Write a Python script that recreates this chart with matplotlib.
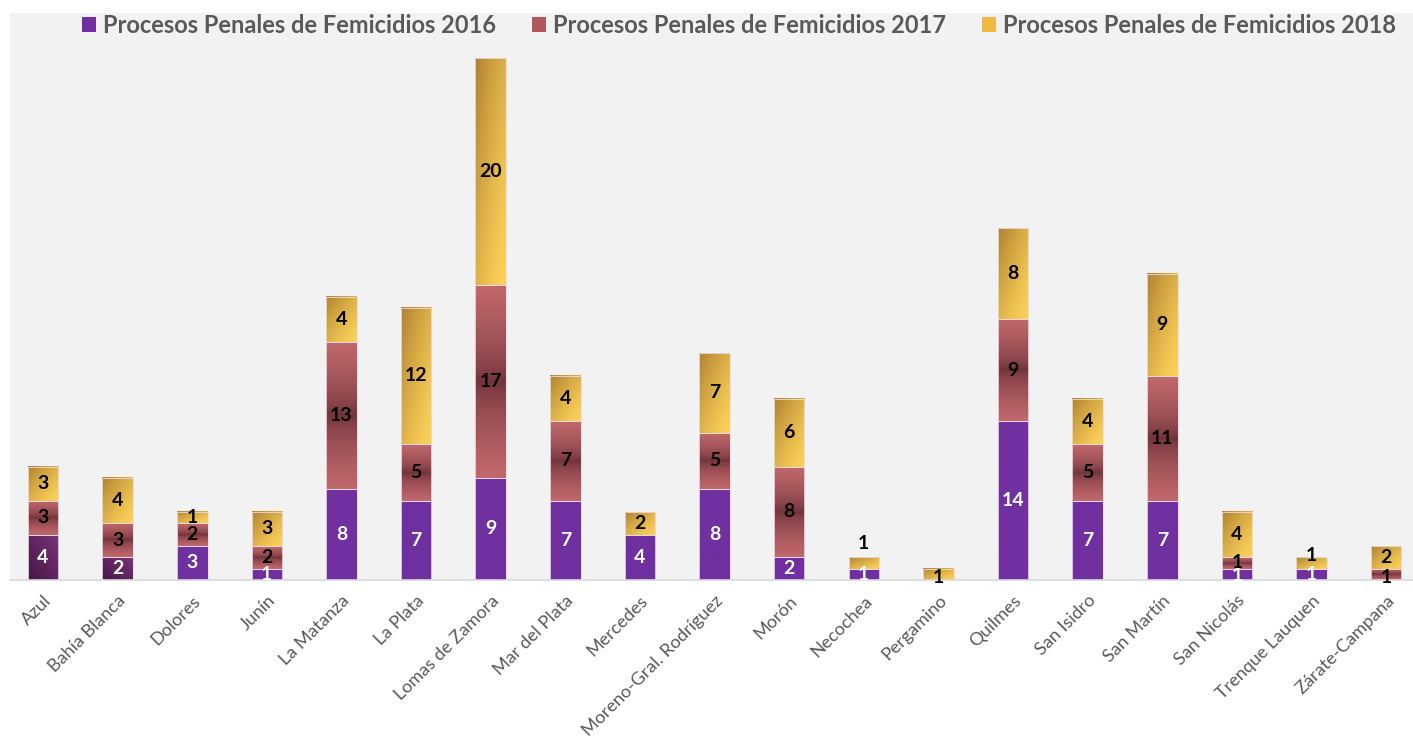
import numpy as np
import matplotlib
matplotlib.use("Agg")
import matplotlib.pyplot as plt
from matplotlib.colors import to_rgb
from matplotlib.patches import Patch

# data
categories = ["Azul", "Bahía Blanca", "Dolores", "Junín", "La Matanza", "La Plata",
              "Lomas de Zamora", "Mar del Plata", "Mercedes", "Moreno-Gral. Rodríguez",
              "Morón", "Necochea", "Pergamino", "Quilmes", "San Isidro", "San Martín",
              "San Nicolás", "Trenque Lauquen", "Zárate-Campana"]
v2016 = [4, 2, 3, 1, 8, 7, 9, 7, 4, 8, 2, 1, 0, 14, 7, 7, 1, 1, 0]
v2017 = [3, 3, 2, 2, 13, 5, 17, 7, 0, 5, 8, 0, 0, 9, 5, 11, 1, 0, 1]
v2018 = [3, 4, 1, 3, 4, 12, 20, 4, 2, 7, 6, 1, 1, 8, 4, 9, 4, 1, 2]
series_names = ["Procesos Penales de Femicidios 2016",
                "Procesos Penales de Femicidios 2017",
                "Procesos Penales de Femicidios 2018"]

plt.rcParams['font.family'] = ['Lato', 'DejaVu Sans']

W, H = 1413, 748
fig = plt.figure(figsize=(W / 100, H / 100), dpi=100)
fig.patch.set_facecolor("white")
ax = fig.add_axes([10 / W, 168 / H, 1403 / W, 567 / H])
ax.set_facecolor("#f2f2f2")

n = len(categories)
x = np.arange(n)
bw = 0.41


def grad_img(kind, res=64):
    u = np.linspace(0, 1, res)[None, :]
    v = np.linspace(0, 1, res)[:, None]  # 0 bottom, 1 top (origin lower)
    if kind == "gold":
        t = (u + (1 - v)) / 2
        c0, c1 = np.array(to_rgb("#b08230")), np.array(to_rgb("#fdd25a"))
        t = np.clip(1 - (1 - t) ** 1.3, 0, 1)
    elif kind == "red":
        t = np.abs(2 * v - 1) + 0 * u
        t = t ** 0.6
        c0, c1 = np.array(to_rgb("#6c3038")), np.array(to_rgb("#c1686b"))
    elif kind == "darkpurple":
        t = (u + v) / 2
        c0, c1 = np.array(to_rgb("#471646")), np.array(to_rgb("#7a3479"))
    else:
        t = 0 * u + 0 * v
        c0 = c1 = np.array(to_rgb("#7030a0"))
    return c0 + (c1 - c0) * t[..., None]


dark_2016 = {"Azul", "Bahía Blanca"}
label_nudge = {(11, 2): 1.75, (17, 2): 0.7, (12, 2): -0.25, (18, 1): -0.25, (16, 0): -0.1}

all_vals = [v2016, v2017, v2018]
kinds = ["purple", "red", "gold"]
bottom = np.zeros(n)
for s, vals in enumerate(all_vals):
    vals = np.array(vals, dtype=float)
    for i in range(n):
        if vals[i] <= 0:
            continue
        kind = kinds[s]
        if s == 0 and categories[i] in dark_2016:
            kind = "darkpurple"
        y0 = bottom[i]
        ax.imshow(grad_img(kind), extent=[x[i] - bw / 2, x[i] + bw / 2, y0, y0 + vals[i]],
                  origin="lower", aspect="auto", zorder=2, interpolation="bilinear")
        ax.add_patch(plt.Rectangle((x[i] - bw / 2, y0), bw, vals[i], fill=False,
                                   ec="#eadce4", lw=0.6, zorder=3))
        ly = y0 + vals[i] / 2 + label_nudge.get((i, s), 0)
        ax.text(x[i], ly, str(int(vals[i])), ha="center", va="center",
                fontsize=14, fontweight="bold",
                color="white" if s == 0 else "black", zorder=4)
    bottom += vals

ax.set_xlim(-0.442, 18.36)
ax.set_ylim(0, 50)
ax.set_yticks([])
ax.set_xticks(x)
ax.set_xticklabels(categories, rotation=45, ha="right", rotation_mode="anchor",
                   fontsize=13, color="#595959")
ax.tick_params(axis="x", length=0, pad=9)
for sp in ["top", "left", "right"]:
    ax.spines[sp].set_visible(False)
ax.spines["bottom"].set_color("#d9d9d9")
ax.spines["bottom"].set_linewidth(1.2)

handles = [Patch(facecolor="#7030a0"), Patch(facecolor="#b0585c"), Patch(facecolor="#f0b840")]
fig.legend(handles, series_names, loc="center", bbox_to_anchor=(0.523, 0.966), ncol=3,
           frameon=False, handlelength=0.6, handleheight=0.6, handletextpad=0.3,
           columnspacing=1.5, prop={"size": 17, "weight": "bold"}, labelcolor="#595959")

fig.savefig("out.png", dpi=100, facecolor="white")
